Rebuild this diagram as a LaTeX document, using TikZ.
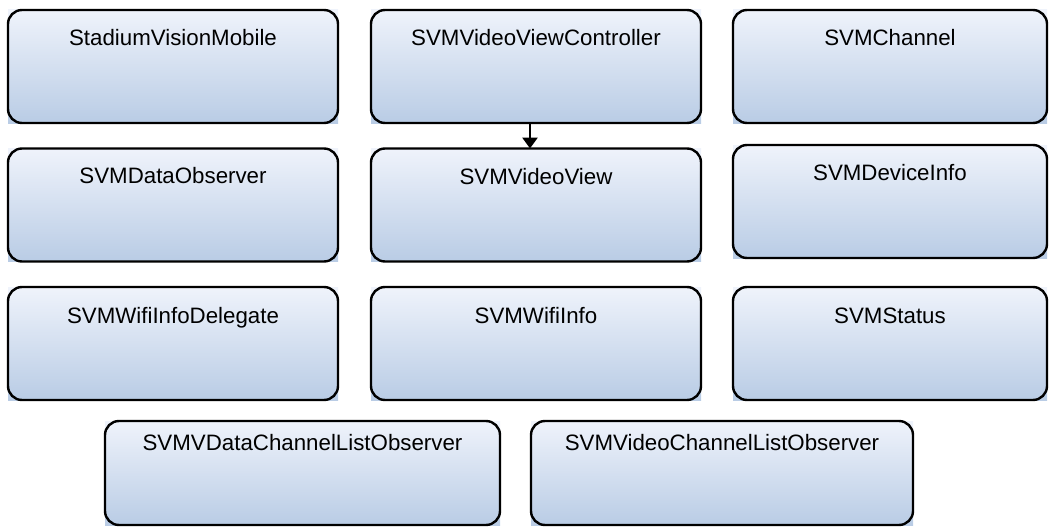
\documentclass[tikz,border=0pt]{standalone}
\usepackage{fontspec}
\setmainfont{Liberation Sans}
\usetikzlibrary{arrows.meta}
\pgfdeclarelayer{background}
\pgfsetlayers{background,main}
\definecolor{filltop}{RGB}{239,243,251}
\definecolor{fillbot}{RGB}{185,204,229}
\tikzset{
  box/.style={draw=black, line width=2.4pt, rounded corners=14pt,
    minimum height=113pt, inner sep=0pt, outer sep=0pt,
    font=\fontsize{22.3}{26}\selectfont, text height=36pt, text depth=77pt},
  lowbox/.style={box, minimum height=104pt, text height=29pt, text depth=75pt},
  boxfill/.style={top color=filltop, bottom color=fillbot},
  link/.style={line width=2.8pt, -{Triangle[width=15pt,length=11pt]}}
}
\begin{document}
\begin{tikzpicture}[x=1pt,y=-1pt]
\useasboundingbox (0,0) rectangle (1050,527);
% row 1
\node[box, minimum width=330pt] (sv) at (173,66.5) {StadiumVisionMobile};
\node[box, minimum width=330pt] (vc) at (536,66.5) {SVMVideoViewController};
\node[box, minimum width=314pt] (ch) at (890,66.5) {SVMChannel};
% row 2
\node[box, minimum width=330pt, text height=35pt, text depth=78pt] (do) at (173,205) {SVMDataObserver};
\node[box, minimum width=330pt, text height=36pt, text depth=77pt] (vv) at (536,205) {SVMVideoView};
\node[box, minimum width=314pt, text height=35pt, text depth=78pt] (di) at (890,201.5) {SVMDeviceInfo};
% row 3
\node[box, minimum width=330pt] (wd) at (173,343.5) {SVMWifiInfoDelegate};
\node[box, minimum width=330pt] (wi) at (536,343.5) {SVMWifiInfo};
\node[box, minimum width=314pt] (st) at (890,343.5) {SVMStatus};
% row 4
\node[lowbox, minimum width=395pt] (dcl) at (302.5,473) {SVMVDataChannelListObserver};
\node[lowbox, minimum width=382pt] (vcl) at (722,473) {SVMVideoChannelListObserver};
% fills behind
\begin{pgfonlayer}{background}
\foreach \n in {sv,vc,ch,do,vv,di,wd,wi,st,dcl,vcl}{
  \shade[boxfill] (\n.north west) rectangle (\n.south east);
}
\end{pgfonlayer}
% connector
\draw[link] (530,0 |- vc.south) -- (530,0 |- vv.north);
\end{tikzpicture}
\end{document}
